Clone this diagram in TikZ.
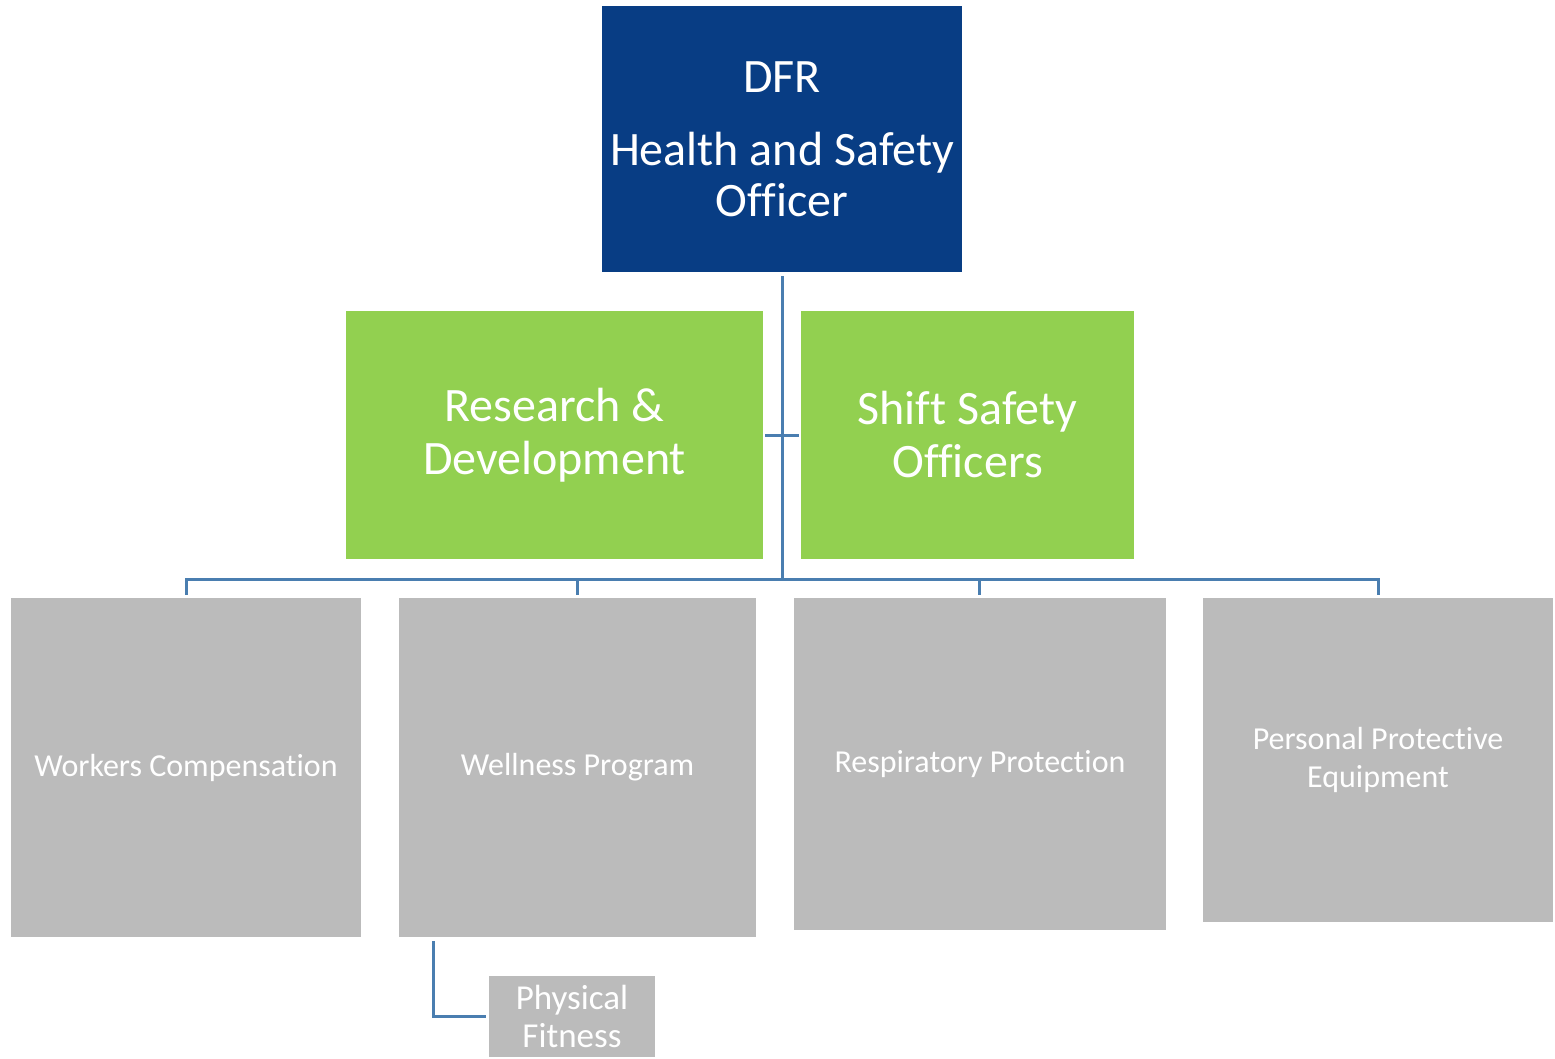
\documentclass[tikz,border=0pt]{standalone}
\usepackage{fontspec}
\setmainfont[Ligatures=NoCommon]{Carlito}
\definecolor{topblue}{HTML}{083D84}
\definecolor{grn}{HTML}{92D050}
\definecolor{gry}{HTML}{BBBBBB}
\definecolor{conn}{HTML}{4A7EB0}
\begin{document}
\begin{tikzpicture}[x=1pt,y=-1pt,
  box/.style={rectangle,inner sep=0pt,align=center,text=white},
  topbox/.style={box,fill=topblue,minimum width=360pt,minimum height=266pt,font=\fontsize{48}{51}\selectfont},
  grnbox/.style={box,fill=grn,minimum height=248pt,font=\fontsize{48}{53}\selectfont},
  grybox/.style={box,fill=gry,font=\fontsize{32}{38}\selectfont},
  link/.style={draw=conn,line width=3pt}]
\useasboundingbox[fill=white] (0,0) rectangle (1555,1058);
\node[topbox] (top) at (782,139) {DFR\\[22pt]Health and Safety\\Officer};
\node[grnbox,minimum width=417pt] (rd) at (554.5,435) {Research \&\\Development};
\node[grnbox,minimum width=333pt] (sso) at (967.5,435) {Shift Safety\\Officers};
\node[grybox,minimum width=350pt,minimum height=339pt] (wc) at (186,767.5) {Workers Compensation};
\node[grybox,minimum width=357pt,minimum height=339pt] (wp) at (577.5,767.5) {Wellness Program};
\node[grybox,minimum width=372pt,minimum height=332pt] (rp) at (980,764) {Respiratory Protection};
\node[grybox,minimum width=350pt,minimum height=324pt] (ppe) at (1378,760) {Personal Protective\\Equipment};
\node[grybox,minimum width=166pt,minimum height=81pt,font=\fontsize{35}{38}\selectfont] (pf) at (572,1016.5) {Physical\\Fitness};
\coordinate (bus) at (782,579);
\draw[link] ([yshift=-4pt]top.south) -- (bus);
\draw[link] ([xshift=2pt]rd.east) -- ([xshift=-2pt]sso.west);
\draw[link] (bus) -| ([yshift=3pt]wc.north);
\draw[link] (bus) -| ([yshift=3pt,xshift=-0.5pt]wp.north);
\draw[link] (bus) -| ([yshift=3pt,xshift=-1pt]rp.north);
\draw[link] (bus) -| ([yshift=3pt]ppe.north);
\draw[link] ([xshift=-144.5pt,yshift=-4pt]wp.south) |- ([xshift=-3pt]pf.west);
\end{tikzpicture}
\end{document}
